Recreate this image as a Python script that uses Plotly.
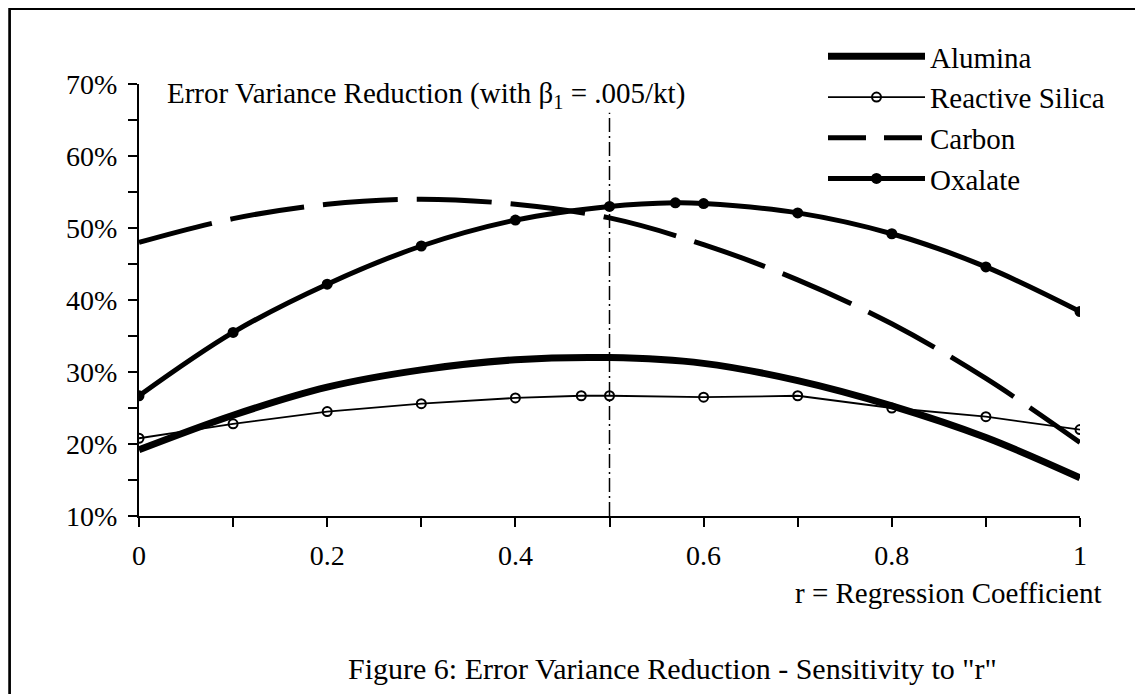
import plotly.graph_objects as go

# ---- data ----
r_vals = [0.0, 0.1, 0.2, 0.3, 0.4, 0.5, 0.6, 0.7, 0.8, 0.9, 1.0]
alumina = [19.2, 24.0, 27.9, 30.3, 31.7, 32.0, 31.2, 28.8, 25.3, 20.9, 15.3]

silica_r = [0.0, 0.1, 0.2, 0.3, 0.4, 0.47, 0.5, 0.6, 0.7, 0.8, 0.9, 1.0]
silica = [20.8, 22.8, 24.5, 25.6, 26.4, 26.7, 26.7, 26.5, 26.7, 25.0, 23.8, 22.0]

carbon = [48.0, 51.3, 53.3, 54.0, 53.3, 51.4, 47.7, 42.8, 36.7, 29.1, 20.2]

oxalate_r = [0.0, 0.1, 0.2, 0.3, 0.4, 0.5, 0.57, 0.6, 0.7, 0.8, 0.9, 1.0]
oxalate = [26.7, 35.5, 42.2, 47.5, 51.1, 53.0, 53.5, 53.4, 52.1, 49.2, 44.6, 38.4]

ref_r = [0.5, 0.5]
ref_y = [10.0, 66.0]

x_ticks = [0.0, 0.2, 0.4, 0.6, 0.8, 1.0]
x_tick_text = ["0", "0.2", "0.4", "0.6", "0.8", "1"]
y_ticks = [10, 20, 30, 40, 50, 60, 70]
y_tick_text = ["10%", "20%", "30%", "40%", "50%", "60%", "70%"]

FONT = "Liberation Serif, Times New Roman, serif"

# the page has an 8px body margin: figure origin sits at screen (8, 8)
OFF = 8
W, H = 1143, 694
PLOT_L, PLOT_R, PLOT_T, PLOT_B = 139, 1080, 84, 516          # screen coords
L, T = PLOT_L - OFF, PLOT_T - OFF
R, B = W - (PLOT_R - OFF), H - (PLOT_B - OFF)
PW, PH = PLOT_R - PLOT_L, PLOT_B - PLOT_T


def px(xs):   # screen x -> paper
    return (xs - PLOT_L) / PW


def py(ys):   # screen y -> paper
    return (PLOT_B - ys) / PH


fig = go.Figure()

fig.add_trace(go.Scatter(
    x=r_vals, y=alumina, name="Alumina", mode="lines",
    line=dict(color="black", width=7, shape="spline", smoothing=1.0),
))
fig.add_trace(go.Scatter(
    x=silica_r, y=silica, name="Reactive Silica", mode="lines+markers",
    line=dict(color="black", width=1.8),
    marker=dict(symbol="circle-open", size=9, color="black", line=dict(width=2)),
))
fig.add_trace(go.Scatter(
    x=r_vals, y=carbon, name="Carbon", mode="lines", showlegend=False,
    legendgroup="carbon",
    line=dict(color="black", width=5, dash="75px,19px", shape="spline", smoothing=1.0),
))
# legend entry for Carbon (the key uses a shorter dash)
fig.add_trace(go.Scatter(
    x=[None], y=[None], name="Carbon", mode="lines", legendgroup="carbon",
    line=dict(color="black", width=5, dash="38px,18px"),
))
fig.add_trace(go.Scatter(
    x=oxalate_r, y=oxalate, name="Oxalate", mode="lines+markers",
    line=dict(color="black", width=5, shape="spline", smoothing=1.0),
    marker=dict(symbol="circle", size=11, color="black"),
))
fig.add_trace(go.Scatter(
    x=ref_r, y=ref_y, mode="lines", showlegend=False, hoverinfo="skip",
    line=dict(color="black", width=1.5, dash="14px,4px,2px,4px"),
))

axis_common = dict(
    showline=True, linecolor="black", linewidth=2, mirror=False,
    showgrid=False, zeroline=False, ticks="outside", ticklen=9,
    tickwidth=2, tickcolor="black",
    tickfont=dict(family=FONT, size=28, color="black"),
)

fig.update_xaxes(
    range=[0, 1], tickmode="array", tickvals=x_ticks, ticktext=x_tick_text,
    minor=dict(tickmode="linear", tick0=0, dtick=0.1, ticks="outside", ticklen=9,
               tickwidth=2, tickcolor="black"),
    ticklabelstandoff=4, **axis_common,
)
fig.update_yaxes(
    range=[10, 70], tickmode="array", tickvals=y_ticks, ticktext=y_tick_text,
    minor=dict(tickmode="linear", tick0=10, dtick=5, ticks="outside", ticklen=9,
               tickwidth=2, tickcolor="black"),
    ticklabelstandoff=5, **axis_common,
)

fig.add_annotation(
    xref="paper", yref="paper", x=px(165), y=py(95), xanchor="left", yanchor="middle",
    text="Error Variance Reduction (with β<sub>1</sub> = .005/kt)", showarrow=False,
    font=dict(family=FONT, size=29, color="black"),
)
fig.add_annotation(
    xref="paper", yref="paper", x=px(1104), y=py(593), xanchor="right", yanchor="middle",
    text="r = Regression Coefficient", showarrow=False,
    font=dict(family=FONT, size=29, color="black"),
)
fig.add_annotation(
    xref="paper", yref="paper", x=px(672), y=py(668), xanchor="center", yanchor="middle",
    text='Figure 6: Error Variance Reduction - Sensitivity to "r"', showarrow=False,
    font=dict(family=FONT, size=30, color="black"),
)

# border of the whole figure (right / bottom edges fall outside the window)
fig.add_shape(
    type="rect", xref="paper", yref="paper",
    x0=px(9.6), x1=px(OFF + W - 1.4), y0=py(OFF + H - 1.4), y1=py(8.7),
    line=dict(color="black", width=2.7), fillcolor="rgba(0,0,0,0)", layer="below",
)

fig.update_layout(
    width=W, height=H,
    margin=dict(l=L, r=R, t=T, b=B, autoexpand=False),
    paper_bgcolor="white", plot_bgcolor="white",
    font=dict(family=FONT, size=29, color="black"),
    legend=dict(
        x=px(823), y=py(31), xanchor="left", yanchor="top",
        bgcolor="rgba(0,0,0,0)", itemwidth=97, tracegroupgap=0,
        font=dict(family=FONT, size=29, color="black"),
    ),
    showlegend=True,
)

fig.write_html("out.html")
